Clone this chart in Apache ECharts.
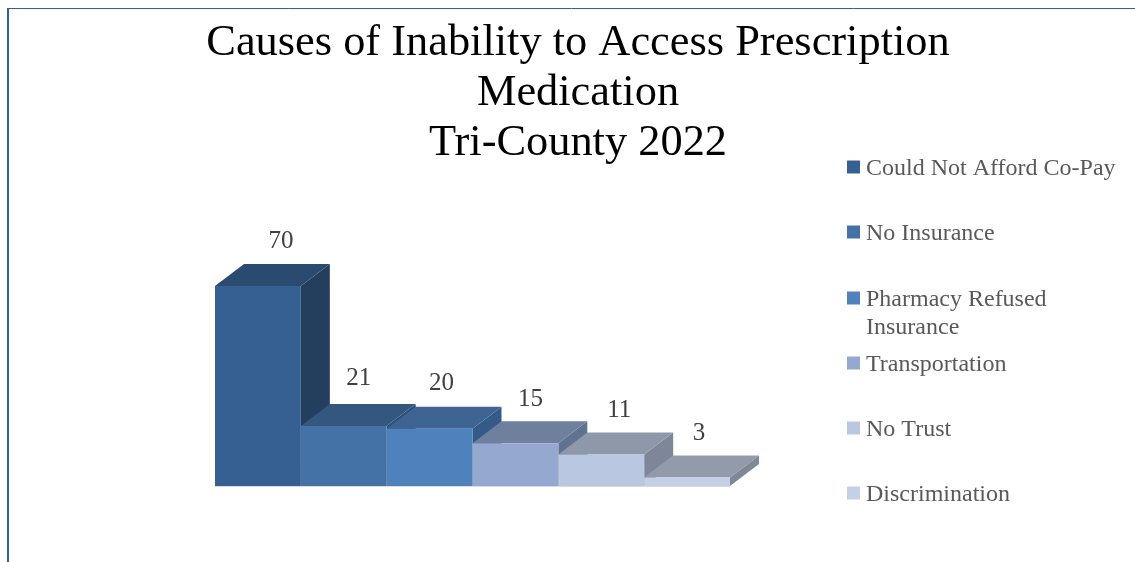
<!DOCTYPE html>
<html>
<head>
<meta charset="utf-8">
<style>html,body{margin:0;padding:0;background:#fff}#c{width:1135px;height:562px}</style>
<script src="https://cdn.jsdelivr.net/npm/echarts@6/dist/echarts.min.js"></script>
</head>
<body>
<div id="c"></div>
<script>
const titleLines = ['Causes of Inability to Access Prescription', 'Medication', 'Tri-County 2022'];
const categories = ['Could Not Afford Co-Pay', 'No Insurance', 'Pharmacy Refused Insurance', 'Transportation', 'No Trust', 'Discrimination'];
const values = [70, 21, 20, 15, 11, 3];

// Styling and layout, kept apart from the data
const faceColors = ['#366092', '#4471a6', '#4f81bd', '#95a8d0', '#b9c7e0', '#c3d0e5'];
const topColors  = ['#2a4a70', '#34577f', '#3e6491', '#6f7f9e', '#8f98aa', '#939bab'];
const sideColors = ['#243f5e', '#2e4f77', '#335a88', '#5f7390', '#7d8799', '#7f8896'];
const labelNudgeX = [23, 15, 12, 15, 18, 12];
const labelNudgeY = [-23, -26, -23, -22, -22, -22];
const legendTops = [155, 220, 258, 351, 416, 481];
const depthX = 29, depthY = 22;
const serif = '"Liberation Serif", serif';
const fontLabel = '25px ' + serif;
// A 13px square with an empty 4px below it, which lifts the square to the text's optical middle
const legendIcon = 'path://M0 0H13V13H0Z M0 17L0 17';

function renderBar(idx) {
  return function (params, api) {
    const base = api.coord([api.value(0), 0]);
    const top = api.coord([api.value(0), api.value(1)]);
    const w = api.size([1, 0])[0];
    const l = base[0] - w / 2, r = base[0] + w / 2, b = base[1], t = top[1];
    return {
      type: 'group',
      children: [
        { type: 'polygon', shape: { points: [[r, t], [r + depthX, t - depthY], [r + depthX, b - depthY], [r, b]] },
          style: { fill: sideColors[idx] } },
        { type: 'polygon', shape: { points: [[l, t], [l + depthX, t - depthY], [r + depthX, t - depthY], [r, t]] },
          style: { fill: topColors[idx] } },
        { type: 'rect', shape: { x: l, y: t, width: w, height: b - t }, style: { fill: faceColors[idx] } },
        { type: 'line', shape: { x1: l, y1: b + 0.5, x2: r, y2: b + 0.5 }, style: { stroke: '#d9d9d9', lineWidth: 1 } },
        { type: 'text', style: {
            text: String(api.value(1)),
            x: base[0] + labelNudgeX[idx], y: t - depthY + labelNudgeY[idx],
            align: 'center', verticalAlign: 'middle', font: fontLabel, fill: '#404040' } }
      ]
    };
  };
}

const chart = echarts.init(document.getElementById('c'), null, { renderer: 'canvas' });
chart.setOption({
  animation: false,
  backgroundColor: '#fff',
  title: {
    text: titleLines.join('\n'),
    left: 578, top: 18, textAlign: 'center', padding: 0,
    textStyle: { fontFamily: serif, fontSize: 44.4, fontWeight: 'normal', color: '#000', lineHeight: 50 }
  },
  legend: categories.map((name, i) => ({
    data: [name],
    left: 847, top: legendTops[i], padding: 0,
    orient: 'vertical', icon: legendIcon, itemWidth: 13, itemHeight: 17,
    selectedMode: false,
    formatter: n => n === 'Pharmacy Refused Insurance' ? '\nPharmacy Refused\nInsurance' : n,
    textStyle: { fontFamily: serif, fontSize: 24, color: '#595959', lineHeight: 28, padding: [0, 0, 0, 1] }
  })),
  grid: { left: 215, top: 286, width: 515, height: 200 },
  xAxis: { type: 'category', data: categories, show: false },
  yAxis: { type: 'value', min: 0, max: 70, show: false },
  series: categories.map((name, i) => ({
    type: 'custom',
    name,
    renderItem: renderBar(i),
    encode: { x: 0, y: 1 },
    itemStyle: { color: faceColors[i] },
    data: [[name, values[i]]]
  })),
  graphic: [
    { type: 'line', silent: true, shape: { x1: 8, y1: 8.5, x2: 1135, y2: 8.5 }, style: { stroke: '#2f6198', lineWidth: 1 } },
    { type: 'line', silent: true, shape: { x1: 8, y1: 8, x2: 8, y2: 562 }, style: { stroke: '#2f6198', lineWidth: 2 } }
  ]
});
</script>
</body>
</html>
